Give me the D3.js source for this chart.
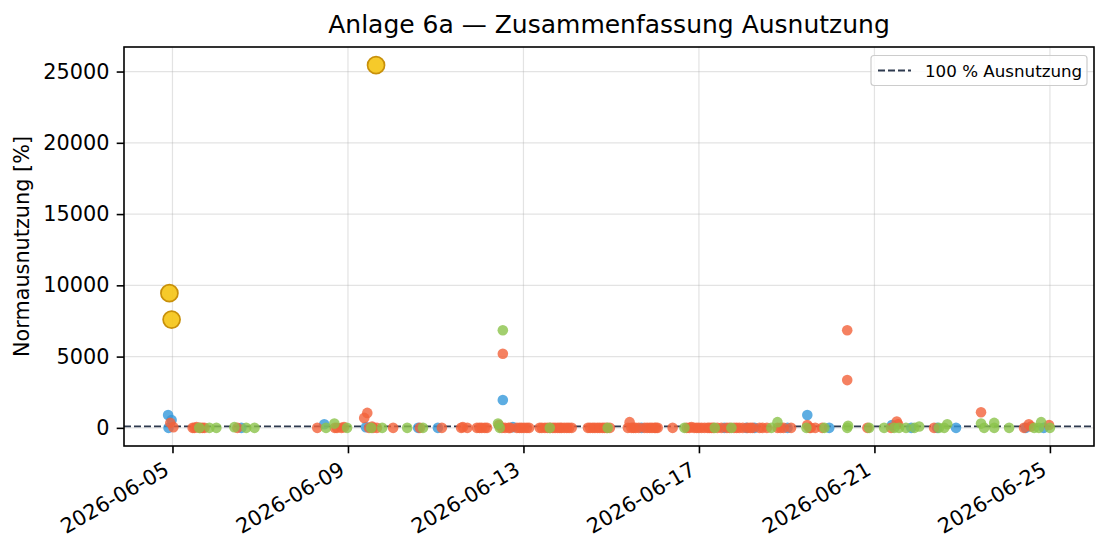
<!DOCTYPE html>
<html>
<head>
<meta charset="utf-8">
<script src="https://cdn.jsdelivr.net/npm/d3@7"></script>
<style>
  html, body { margin: 0; padding: 0; background: #fff; }
  svg { display: block; font-family: "DejaVu Sans", sans-serif; }
</style>
</head>
<body>
<svg id="chart" width="1110" height="555"></svg>
<script>
// ---------------- DATA ----------------
// x values: days after 2026-06-05 00:00 ; y values: Normausnutzung [%]
const baseDate = "2026-06-05T00:00:00";

const blueDays   = [-0.10, -0.09, -0.02, 1.57, 3.46, 4.41, 5.60, 6.05, 7.53, 7.76, 10.69, 12.58, 13.08, 13.27, 14.02, 14.47, 14.97, 16.40, 16.84, 17.43, 17.86, 19.45, 19.86];
const blueValues = [900,    0,     550,   0,    250,  50,   0,    0,    1950, 50,   0,     0,     0,     0,     0,     900,   0,     200,   0,     0,     0,     0,     0];

const orangeDays   = [-0.05, 0.02, 0.46, 0.55, 0.68, 0.73, 1.48, 3.30, 3.75, 3.85, 3.91, 4.37, 4.44, 4.48, 4.55, 4.57, 4.66, 5.03, 5.64, 6.14, 6.62, 6.94, 7.05, 7.12, 7.44, 7.51, 7.53, 7.58, 7.85, 7.96, 8.08, 8.37, 8.49, 8.67, 8.78, 8.87, 8.99, 9.10, 9.47, 9.58, 9.69, 9.80, 9.90, 9.97, 10.38, 10.42, 10.51, 10.76, 10.88, 10.99, 11.06, 11.40, 11.72, 11.83, 11.95, 12.06, 12.20, 12.29, 12.33, 12.51, 12.70, 12.86, 12.92, 13.11, 13.22, 13.45, 13.79, 13.86, 14.47, 14.52, 14.81, 15.38, 15.38, 15.84, 16.38, 16.51, 16.54, 17.36, 18.43, 19.41, 19.52, 19.57, 19.98,
                      0.50, 0.63, 3.70, 6.58, 6.72, 7.00, 7.17, 7.66, 7.70, 7.91, 8.02, 8.13, 8.42, 8.55, 8.61, 8.72, 8.83, 8.93, 9.04, 9.52, 9.63, 9.74, 9.85, 10.46, 10.56, 10.63, 10.82, 10.93, 11.02, 11.78, 11.89, 12.00, 12.13, 12.24, 12.42, 12.64, 12.80, 13.00, 13.17, 13.38, 13.55, 13.93, 14.10, 14.55, 14.65];
const orangeValues = [350,   50,   0,    50,   0,    0,    0,    0,    0,    0,    50,   700,  1050, 0,    100,  0,    0,    0,    0,    0,    50,   0,    0,    0,    200,  0,    5200, 0,    0,    0,    0,    0,    0,    0,    0,    0,    0,    0,    0,    0,    0,    0,    0,    0,    0,     400,   0,     0,     0,     0,     0,     0,     0,     50,    0,     0,     0,     0,     0,     0,     0,     0,     0,     0,     0,     0,     0,     0,     200,   0,     0,     6850,  3350,  0,     0,     450,   250,   0,     1100,  0,     250,   100,   200,
                      0,    0,    0,    0,    0,    0,    0,    0,    0,    0,    0,    0,    0,    0,    0,    0,    0,    0,    0,    0,    0,    0,    0,    0,     0,     0,     0,     0,     0,     0,     0,     0,     0,     0,     0,     0,     0,     0,     0,     0,     0,     0,     0,     0,     0];

const greenDays   = [0.61, 0.84, 1.00, 1.41, 1.68, 1.87, 3.50, 3.69, 3.98, 4.53, 4.78, 5.35, 5.71, 7.42, 7.46, 7.53, 8.60, 9.92, 11.67, 12.36, 12.74, 13.65, 13.79, 14.45, 14.86, 15.38, 15.40, 15.88, 16.22, 16.45, 16.56, 16.72, 16.91, 17.02, 17.47, 17.59, 17.66, 18.43, 18.50, 18.73, 18.73, 19.07, 19.64, 19.75, 19.80, 20.00];
const greenValues = [0,    0,    0,    50,   0,    0,    0,    300,  0,    0,    0,    0,    0,    300,  0,    6850, 0,    0,    0,     0,     0,     0,     400,   0,     0,     0,     150,   0,     0,     0,     0,     0,     0,     100,   0,     0,     250,   300,   0,     0,     350,   0,     0,     0,     400,   0];

// highlighted extreme values (yellow)
const peakDays   = [-0.07, -0.02, 4.64];
const peakValues = [9450, 7600, 25450];

const xTickLabels = ["2026-06-05", "2026-06-09", "2026-06-13", "2026-06-17", "2026-06-21", "2026-06-25"];
const yTickValues = [0, 5000, 10000, 15000, 20000, 25000];
const refValue = 100;
const titleText = "Anlage 6a \u2014 Zusammenfassung Ausnutzung";
const yLabel = "Normausnutzung [%]";
const legendLabel = "100 % Ausnutzung";

// ---------------- CHART ----------------
const svg = d3.select("#chart");
const L = 124, R = 1094, T = 47, B = 446;
const DAY = 86400000;
const base = new Date(baseDate).getTime();
const toDate = d => new Date(base + d * DAY);

function mk(days, vals) { return days.map((d, i) => ({ t: toDate(d), v: vals[i] })); }
const blue = mk(blueDays, blueValues);
const orange = mk(orangeDays, orangeValues);
const green = mk(greenDays, greenValues);
const peaks = mk(peakDays, peakValues);
const all = blue.concat(orange, green, peaks);

const tExt = d3.extent(all, d => d.t.getTime());
const tPad = (tExt[1] - tExt[0]) * 0.05;
const vExt = d3.extent(all, d => d.v);
const vPad = (vExt[1] - vExt[0]) * 0.05;

const x = d3.scaleTime().domain([new Date(tExt[0] - tPad), new Date(tExt[1] + tPad)]).range([L, R]);
const y = d3.scaleLinear().domain([vExt[0] - vPad, vExt[1] + vPad]).range([B, T]);

const xTicks = xTickLabels.map(s => new Date(s + "T00:00:00"));

// grid
const grid = svg.append("g");
grid.selectAll(".gx").data(xTicks).enter().append("line")
  .attr("x1", d => x(d)).attr("x2", d => x(d)).attr("y1", T).attr("y2", B)
  .attr("stroke", "#b0b0b0").attr("stroke-opacity", 0.35).attr("stroke-width", 1.2);
grid.selectAll(".gy").data(yTickValues).enter().append("line")
  .attr("x1", L).attr("x2", R).attr("y1", d => y(d)).attr("y2", d => y(d))
  .attr("stroke", "#b0b0b0").attr("stroke-opacity", 0.35).attr("stroke-width", 1.2);

// reference line
svg.append("line")
  .attr("x1", L).attr("x2", R).attr("y1", y(refValue)).attr("y2", y(refValue))
  .attr("stroke", "#2e3a4f").attr("stroke-width", 1.8).attr("stroke-dasharray", "7,3");

// points
function dots(data, color, r) {
  svg.append("g").selectAll("circle").data(data).enter().append("circle")
    .attr("cx", d => x(d.t)).attr("cy", d => y(d.v)).attr("r", r)
    .attr("fill", color).attr("fill-opacity", 0.8);
}
dots(blue, "#3498db", 5.3);
dots(orange, "#f2623a", 5.3);
dots(green, "#8bc34a", 5.3);

svg.append("g").selectAll("circle").data(peaks).enter().append("circle")
  .attr("cx", d => x(d.t)).attr("cy", d => y(d.v)).attr("r", 8.5)
  .attr("fill", "#f5c518").attr("fill-opacity", 0.92)
  .attr("stroke", "#c8900a").attr("stroke-width", 1.7);

// axes
const fs = 20.8;
const xAxis = svg.append("g").attr("transform", `translate(0,${B})`)
  .call(d3.axisBottom(x).tickValues(xTicks).tickFormat(d3.timeFormat("%Y-%m-%d")).tickSize(7.3).tickSizeOuter(0));
xAxis.select(".domain").remove();
xAxis.selectAll(".tick line").attr("stroke", "#000").attr("stroke-width", 1.6);
xAxis.selectAll(".tick text")
  .attr("font-size", fs).attr("font-family", "DejaVu Sans").attr("fill", "#000")
  .attr("text-anchor", "end").attr("x", 0).attr("y", 0).attr("dy", null)
  .attr("transform", "translate(-2.4,27.7) rotate(-30)");

const yAxis = svg.append("g").attr("transform", `translate(${L},0)`)
  .call(d3.axisLeft(y).tickValues(yTickValues).tickFormat(d3.format("d")).tickSize(7.3).tickPadding(7.3).tickSizeOuter(0));
yAxis.select(".domain").remove();
yAxis.selectAll(".tick line").attr("stroke", "#000").attr("stroke-width", 1.6);
yAxis.selectAll(".tick text").attr("font-size", fs).attr("font-family", "DejaVu Sans").attr("fill", "#000");

// frame
svg.append("rect").attr("x", L).attr("y", T).attr("width", R - L).attr("height", B - T)
  .attr("fill", "none").attr("stroke", "#000").attr("stroke-width", 1.6);

// title & labels
svg.append("text").attr("x", (L + R) / 2).attr("y", 33).attr("text-anchor", "middle")
  .attr("font-size", 25).attr("fill", "#000").text(titleText);
svg.append("text").attr("transform", `translate(29,${(T + B) / 2}) rotate(-90)`)
  .attr("text-anchor", "middle").attr("font-size", fs).attr("fill", "#000").text(yLabel);

// legend
const lg = svg.append("g");
lg.append("rect").attr("x", 871).attr("y", 55.5).attr("width", 216).attr("height", 30).attr("rx", 3)
  .attr("fill", "#fff").attr("fill-opacity", 0.8).attr("stroke", "#cccccc").attr("stroke-width", 1.2);
lg.append("line").attr("x1", 878).attr("x2", 911).attr("y1", 70.5).attr("y2", 70.5)
  .attr("stroke", "#2e3a4f").attr("stroke-width", 1.8).attr("stroke-dasharray", "7,3");
lg.append("text").attr("x", 925).attr("y", 76.5).attr("font-size", 16.7).attr("fill", "#000").text(legendLabel);
</script>
</body>
</html>
